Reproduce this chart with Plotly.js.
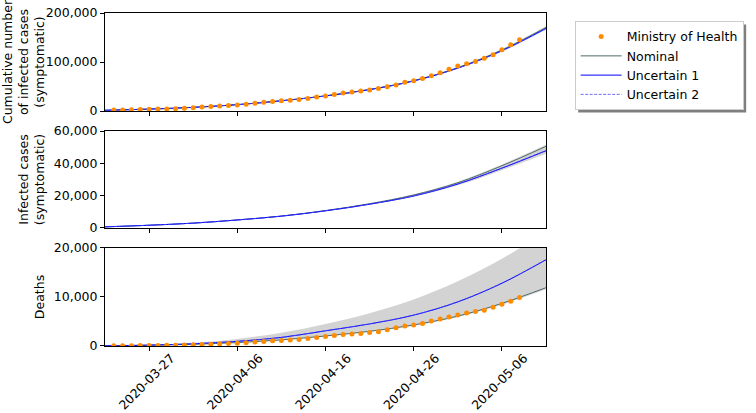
<!DOCTYPE html>
<html>
<head>
<meta charset="utf-8">
<script src="https://cdn.plot.ly/plotly-3.0.1.min.js"></script>
<style>
  body { margin: 0; background: #fff; }
  #chart { width: 756px; height: 413px; }
</style>
</head>
<body>
<div id="chart"></div>
<script>
// Ministry of Health reported values (daily)
const obsDates = [
  "2020-03-23", "2020-03-24", "2020-03-25", "2020-03-26", "2020-03-27", "2020-03-28",
  "2020-03-29", "2020-03-30", "2020-03-31", "2020-04-01", "2020-04-02", "2020-04-03",
  "2020-04-04", "2020-04-05", "2020-04-06", "2020-04-07", "2020-04-08", "2020-04-09",
  "2020-04-10", "2020-04-11", "2020-04-12", "2020-04-13", "2020-04-14", "2020-04-15",
  "2020-04-16", "2020-04-17", "2020-04-18", "2020-04-19", "2020-04-20", "2020-04-21",
  "2020-04-22", "2020-04-23", "2020-04-24", "2020-04-25", "2020-04-26", "2020-04-27",
  "2020-04-28", "2020-04-29", "2020-04-30", "2020-05-01", "2020-05-02", "2020-05-03",
  "2020-05-04", "2020-05-05", "2020-05-06", "2020-05-07", "2020-05-08",
];
const obsCases = [
  1924, 2247, 2554, 2985, 3417, 3904, 4256, 4579, 5717, 6836, 8044, 9056,
  10278, 11130, 12056, 13717, 15927, 17857, 19638, 20727, 22169, 23430, 25262, 28320,
  30425, 33682, 36599, 38654, 40581, 43079, 45757, 49492, 52995, 58509, 61888, 66501,
  71886, 78162, 85380, 91589, 96559, 101147, 107780, 114715, 125218, 135106, 145328,
];
const obsDeaths = [
  34, 46, 59, 77, 92, 111, 136, 159, 201, 240, 324, 359,
  445, 486, 553, 667, 800, 941, 1056, 1124, 1223, 1328, 1532, 1736,
  1924, 2141, 2347, 2462, 2575, 2741, 2906, 3331, 3704, 4057, 4286, 4603,
  5083, 5513, 5901, 6329, 6750, 7025, 7321, 7921, 8536, 9146, 9897,
];

// model outputs (every 5 days)
const modelDates = [
  "2020-03-22", "2020-03-27", "2020-04-01", "2020-04-06", "2020-04-11", "2020-04-16",
  "2020-04-21", "2020-04-26", "2020-05-01", "2020-05-06", "2020-05-11",
];
const cumNominal = [1500, 3900, 7500, 13000, 21000, 31000, 44000, 62000, 88500, 124500, 170500];
const cumUnc1 = [1500, 3900, 7450, 12900, 20800, 30700, 43600, 61300, 87500, 123000, 168500];
const cumUnc2 = [1500, 3900, 7450, 12900, 20850, 30800, 43700, 61500, 87800, 123400, 169000];
const cumLow = [1450, 3800, 7300, 12600, 20400, 30100, 42800, 60200, 86000, 121000, 166000];
const cumHigh = [1550, 4000, 7700, 13300, 21400, 31600, 44800, 63000, 90000, 126500, 173000];

const infNominal = [700, 1700, 3000, 5000, 7400, 10800, 15000, 20400, 28000, 38500, 50500];
const infUnc1 = [700, 1700, 3000, 4950, 7300, 10600, 14700, 19800, 27200, 37000, 47800];
const infUnc2 = [700, 1700, 3000, 4950, 7300, 10650, 14750, 19900, 27300, 37200, 48000];
const infLow = [680, 1650, 2920, 4850, 7150, 10400, 14400, 19300, 26400, 35800, 46000];
const infHigh = [720, 1750, 3080, 5100, 7550, 11000, 15300, 20800, 28600, 39300, 51500];

const deathNominal = [40, 150, 350, 700, 1250, 2050, 3000, 4300, 6100, 8700, 11900];
const deathUnc1 = [40, 180, 450, 950, 1750, 3100, 4500, 6300, 9000, 12800, 17600];
const deathUnc2 = [40, 180, 450, 960, 1760, 3120, 4520, 6330, 9050, 12850, 17650];
const deathLow = [38, 140, 330, 670, 1200, 1980, 2900, 4150, 5900, 8450, 11600];
const deathHigh = [50, 250, 650, 1450, 2700, 4500, 6700, 9500, 13200, 17800, 23300];

const tickDates = ["2020-03-27", "2020-04-06", "2020-04-16", "2020-04-26", "2020-05-06"];

const NOMINAL = "#4f6b6b";
const BAND = "#d3d3d3";
const ORANGE = "#ff8c00";

function panel(n, low, high, nominal, unc1, unc2, obs) {
  const xa = n === 1 ? "x" : "x" + n;
  const ya = n === 1 ? "y" : "y" + n;
  const first = n === 1;
  // band first so the lines and dots sit on top of it
  const traces = [
    { x: modelDates, y: low, xaxis: xa, yaxis: ya, mode: "lines",
      line: { width: 0, shape: "spline" }, showlegend: false, hoverinfo: "skip" },
    { x: modelDates, y: high, xaxis: xa, yaxis: ya, mode: "lines", fill: "tonexty",
      fillcolor: BAND, line: { width: 0, shape: "spline" }, showlegend: false, hoverinfo: "skip" },
    { x: modelDates, y: nominal, xaxis: xa, yaxis: ya, mode: "lines", name: "Nominal",
      line: { color: NOMINAL, width: 1, shape: "spline" }, showlegend: first, legendrank: 2 },
    { x: modelDates, y: unc1, xaxis: xa, yaxis: ya, mode: "lines", name: "Uncertain 1",
      line: { color: "#0000ff", width: 1, shape: "spline" }, showlegend: first, legendrank: 3 },
    { x: modelDates, y: unc2, xaxis: xa, yaxis: ya, mode: "lines", name: "Uncertain 2",
      line: { color: "#4a4aff", width: 0.8, dash: "3px,1.5px", shape: "spline" },
      showlegend: first, legendrank: 4 },
  ];
  if (obs) {
    traces.push({ x: obsDates, y: obs, xaxis: xa, yaxis: ya, mode: "markers",
      name: "Ministry of Health", marker: { color: ORANGE, size: 5 },
      showlegend: first, legendrank: 1 });
  }
  return traces;
}

const data = [
  ...panel(1, cumLow, cumHigh, cumNominal, cumUnc1, cumUnc2, obsCases),
  ...panel(2, infLow, infHigh, infNominal, infUnc1, infUnc2, null),
  ...panel(3, deathLow, deathHigh, deathNominal, deathUnc1, deathUnc2, obsDeaths),
];

const font = { family: "DejaVu Sans", size: 12.5, color: "#000" };

function xaxis(anchor, labels) {
  return {
    anchor,
    type: "date",
    range: ["2020-03-22", "2020-05-11"],
    tickvals: tickDates,
    ticktext: tickDates,
    showticklabels: labels,
    tickangle: -45,
    ticklabelshift: 22,
    ticklabelstandoff: -5,
    ticks: "outside", ticklen: 4, tickcolor: "#000",
    showline: true, mirror: true, linecolor: "#000", linewidth: 1,
    showgrid: false, zeroline: false,
    tickfont: font,
  };
}

function yaxis(domain, range, dtick, title) {
  return {
    domain,
    range,
    dtick,
    tickformat: ",d",
    ticks: "outside", ticklen: 4, tickcolor: "#000",
    showline: true, mirror: true, linecolor: "#000", linewidth: 1,
    showgrid: false, zeroline: false,
    tickfont: font,
    title: { text: title, font, standoff: 6 },
  };
}

const layout = {
  width: 756,
  height: 413,
  margin: { l: 105, r: 203, t: 13, b: 67 },
  font,
  showlegend: true,
  legend: {
    x: 1.065, y: 0.976, xanchor: "left", yanchor: "top",
    traceorder: "normal",
    bgcolor: "#fff", bordercolor: "#cccccc", borderwidth: 1,
    font, tracegroupgap: 0, itemwidth: 41,
  },
  xaxis: xaxis("y", false),
  xaxis2: xaxis("y2", false),
  xaxis3: xaxis("y3", true),
  yaxis: yaxis([0.7057, 1], [0, 200000], 100000, "Cumulative number<br>of infected cases<br>(symptomatic)"),
  yaxis2: yaxis([0.3544, 0.6456], [0, 60000], 20000, "Infected cases<br>(symptomatic)"),
  yaxis3: yaxis([0, 0.2943], [0, 20000], 10000, "Deaths"),
  paper_bgcolor: "#fff",
  plot_bgcolor: "#fff",
};

Plotly.newPlot("chart", data, layout, { displayModeBar: false, staticPlot: true }).then((gd) => {
  // drop shadow behind the legend box, placed from its drawn size
  const bg = gd.querySelector(".legend .bg").getBoundingClientRect();
  const box = gd.getBoundingClientRect();
  const size = gd._fullLayout._size;
  const px = (v) => (v - box.left - size.l) / size.w;
  const py = (v) => 1 - (v - box.top - size.t) / size.h;
  Plotly.relayout(gd, {
    shapes: [{
      type: "rect", xref: "paper", yref: "paper", layer: "above",
      x0: px(bg.left + 3), x1: px(bg.right + 3), y0: py(bg.bottom + 3), y1: py(bg.top + 3),
      fillcolor: "#7f7f7f", line: { width: 0 },
    }],
  });
});
</script>
</body>
</html>
